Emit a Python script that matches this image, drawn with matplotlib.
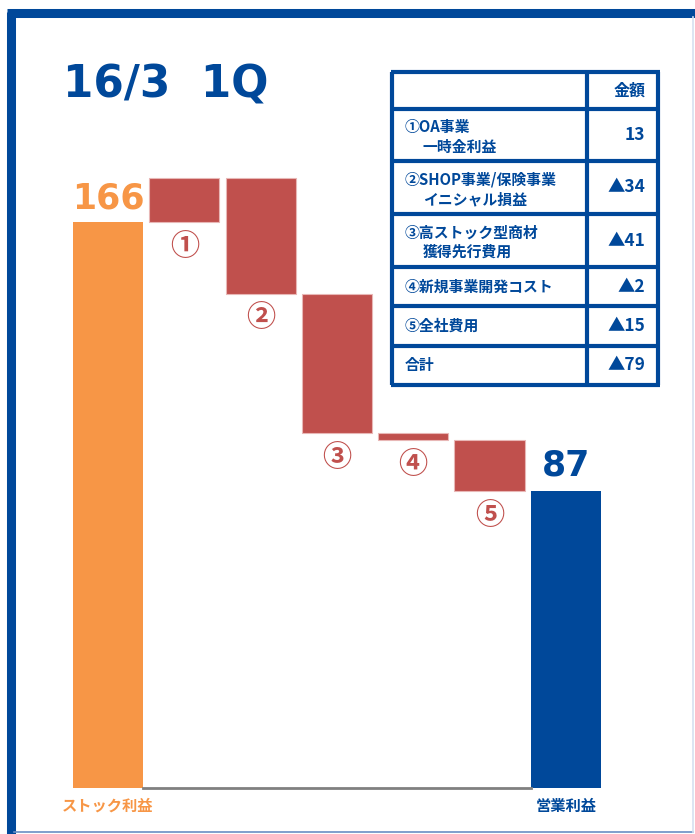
import matplotlib.pyplot as plt
from matplotlib.lines import Line2D

# data
start_label = 'ストック利益'
end_label = '営業利益'
start_value = 166
end_value = 87
step_labels = ['①', '②', '③', '④', '⑤']
step_values = [13, -34, -41, -2, -15]

table_header = '金額'
table_items = [('①OA事業', '一時金利益'),
               ('②SHOP事業/保険事業', 'イニシャル損益'),
               ('③高ストック型商材', '獲得先行費用'),
               ('④新規事業開発コスト', None),
               ('⑤全社費用', None),
               ('合計', None)]
table_values = ['13', '▲34', '▲41', '▲2', '▲15', '▲79']

ORANGE = '#F79646'
RED = '#C0504D'
BLUE = '#00489A'
JP = ['Noto Sans CJK JP', 'DejaVu Sans']
NUM = ['DejaVu Sans']

W, H = 695, 834
fig = plt.figure(figsize=(W / 100, H / 100), dpi=100)


def fx(x):
    return x / W


def fy(y):
    return 1 - y / H


# waterfall axes spanning the whole figure
ax = fig.add_axes([0, 0, 1, 1])
ax.set_xlim(-108 / 76.3, (W - 108) / 76.3)
ax.set_ylim(-(H - 788) / 3.41, 788 / 3.41)
ax.axis('off')

width = 0.92
ax.bar(0, start_value, width=width, color=ORANGE)
level = start_value
for i, v in enumerate(step_values):
    bottom = level if v > 0 else level + v
    ax.bar(i + 1, abs(v), bottom=bottom, width=width, color=RED,
           edgecolor='#E8B7B6', linewidth=0.8)
    level += v
    ax.text(i + 1, bottom - 7, step_labels[i], ha='center', va='center',
            fontsize=21, fontweight='bold', color=RED, family=JP)
n = len(step_values) + 1
ax.bar(n, end_value, width=width, color=BLUE)
ax.plot([width / 2, n - width / 2], [0, 0], color='#808080', lw=2)

ax.text(0, start_value + 4, str(start_value), ha='center', va='baseline',
        fontsize=25, fontweight='bold', color=ORANGE, family=NUM)
ax.text(n, end_value + 4.5, str(end_value), ha='center', va='baseline',
        fontsize=25, fontweight='bold', color=BLUE, family=NUM)
ax.text(0, -5.3, start_label, ha='center', va='center', fontsize=11,
        fontweight='bold', color=ORANGE, family=JP)
ax.text(n, -5.3, end_label, ha='center', va='center', fontsize=11,
        fontweight='bold', color=BLUE, family=JP)

# title
fig.text(fx(63), fy(98), '16/3  1Q', ha='left', va='baseline', fontsize=31.5,
         fontweight='bold', color=BLUE, family=NUM)

# frame
fig.add_artist(Line2D([fx(11), fx(11)], [fy(12), fy(834)], color=BLUE, lw=6.5,
                      solid_capstyle='butt'))
fig.add_artist(Line2D([fx(7), fx(695)], [fy(12.5), fy(12.5)], color=BLUE,
                      lw=6.5, solid_capstyle='butt'))
fig.add_artist(Line2D([fx(14), fx(693)], [fy(831.5), fy(831.5)],
                      color='#6A8FC4', lw=1.2))
fig.add_artist(Line2D([fx(693), fx(693)], [fy(17), fy(832)],
                      color='#D5E0F0', lw=1.2))

# table
tl, tdiv, tr = 392, 587, 658
row_y = [72, 109, 161, 214, 267, 306, 346, 385]
for y in row_y:
    fig.add_artist(Line2D([fx(tl - 1.5), fx(tr + 1.5)], [fy(y), fy(y)],
                          color=BLUE, lw=3, solid_capstyle='butt'))
for x in (tl, tdiv, tr):
    fig.add_artist(Line2D([fx(x), fx(x)], [fy(row_y[0]), fy(row_y[-1])],
                          color=BLUE, lw=3, solid_capstyle='butt'))

fig.text(fx(646), fy((row_y[0] + row_y[1]) / 2), table_header, ha='right',
         va='center', fontsize=11.5, fontweight='bold', color=BLUE, family=JP)
for k, (lines, val) in enumerate(zip(table_items, table_values)):
    yc = (row_y[k + 1] + row_y[k + 2]) / 2
    first, second = lines
    if second is None:
        fig.text(fx(405), fy(yc), first, ha='left', va='center', fontsize=10.7,
                 fontweight='bold', color=BLUE, family=JP)
    else:
        fig.text(fx(405), fy(yc - 8), first, ha='left', va='center',
                 fontsize=10.7, fontweight='bold', color=BLUE, family=JP)
        fig.text(fx(423), fy(yc + 11.5), second, ha='left', va='center',
                 fontsize=10.7, fontweight='bold', color=BLUE, family=JP)
    fig.text(fx(645), fy(yc), val, ha='right', va='center', fontsize=12.5,
             fontweight='bold', color=BLUE, family=JP)

fig.savefig('out.png', dpi=100)
plt.close(fig)
